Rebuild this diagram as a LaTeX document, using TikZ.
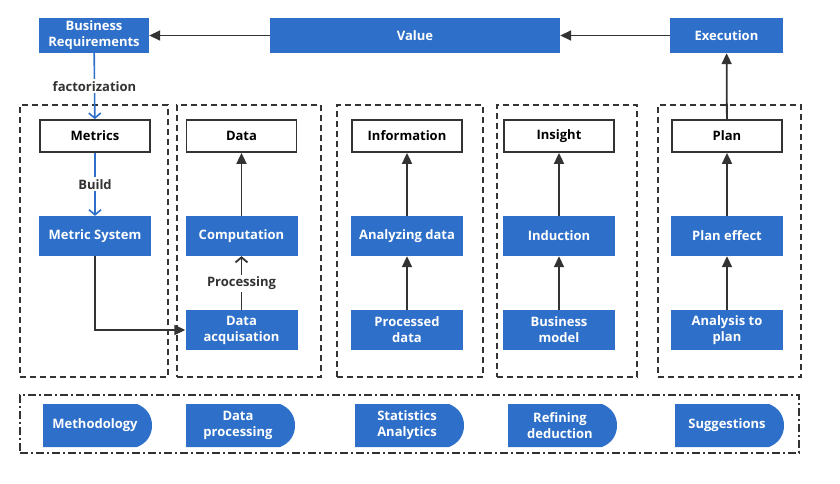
\documentclass[tikz,border=0pt]{standalone}
\usepackage{fontspec}
\setmainfont{Open Sans}
\usetikzlibrary{arrows.meta}
\definecolor{boxblue}{RGB}{46,112,201}
\definecolor{linegray}{RGB}{51,51,51}

\begin{document}
\begin{tikzpicture}[x=1pt,y=-1pt,
        every node/.style={font=\fontsize{13}{16}\selectfont\bfseries, align=center, inner sep=0pt},
        headbox/.style={fill=boxblue, text=white, minimum height=35pt},
        bluebox/.style={fill=boxblue, text=white, minimum height=40pt, minimum width=112pt},
        topbox/.style={draw=linegray, line width=1.8pt, fill=white, minimum height=32pt, minimum width=110pt},
        panel/.style={draw=linegray, line width=1.8pt, dash pattern=on 6pt off 4pt, minimum height=272pt, minimum width=#1},
        flow/.style={draw=linegray, line width=1.8pt, -{Triangle[length=11pt,width=10pt]}},
        openflow/.style={draw=linegray, line width=1.8pt, -{Straight Barb[length=5pt,width=12pt]}},
        blueflow/.style={draw=boxblue, line width=1.6pt, -{Straight Barb[length=5pt,width=12pt]}},
        tag/.style={fill=white, text=linegray, inner sep=2pt},
    ]
    \useasboundingbox (0,0) rectangle (840,484);

    \node[panel=148pt] (p1) at (94,241) {};
    \node[panel=144pt] (p2) at (249,241) {};
    \node[panel=146pt] (p3) at (410,241) {};
    \node[panel=140pt] (p4) at (567,241) {};
    \node[panel=143pt] (p5) at (729.5,241) {};
    \node[draw=linegray, line width=1.8pt, dash pattern=on 8pt off 3pt on 2pt off 3pt,
          minimum width=779pt, minimum height=58pt] (bottom) at (409.5,424) {};

    \node[headbox, minimum width=110pt] (req) at (94,35.5) {Business\\Requirements};
    \node[headbox, minimum width=290pt] (value) at (415,35.5) {Value};
    \node[headbox, minimum width=113pt] (exec) at (726.5,35.5) {Execution};

    \node[topbox] (metrics) at (95,136) {Metrics};
    \node[topbox] (data) at (241.5,136) {Data};
    \node[topbox] (info) at (407,136) {Information};
    \node[topbox] (insight) at (559,136) {Insight};
    \node[topbox] (plan) at (727,136) {Plan};

    \node[bluebox] (msys) at (95,236) {Metric System};
    \node[bluebox] (comp) at (241.5,236) {Computation};
    \node[bluebox] (analyze) at (407,236) {Analyzing data};
    \node[bluebox] (induct) at (559,236) {Induction};
    \node[bluebox] (effect) at (727,236) {Plan effect};

    \node[bluebox] (acq) at (241.5,330) {Data\\acquisation};
    \node[bluebox] (procd) at (407,330) {Processed\\data};
    \node[bluebox] (bmodel) at (559,330) {Business\\model};
    \node[bluebox] (aplan) at (727,330) {Analysis to\\plan};

    \foreach \lx/\nm/\txt in {43/meth/Methodology, 186/dproc/{Data\\processing},
            355/stat/{Statistics\\Analytics}, 508/refine/{Refining\\deduction}, 675/sugg/Suggestions}{
        \fill[boxblue] (\lx,404) -- ({\lx+94},404)
            .. controls ({\lx+104},408) and ({\lx+109},416) .. ({\lx+109},425.5)
            .. controls ({\lx+109},435) and ({\lx+104},443) .. ({\lx+94},447)
            -- (\lx,447) -- cycle;
        \node[text=white] (\nm) at ({\lx+52},425.5) {\txt};
    }

    \draw[flow] (exec) -- (value);
    \draw[flow] (value) -- (req);
    \draw[flow] (plan) -- (exec);
    \draw[blueflow] (req) -- node[tag] {factorization} (metrics);
    \draw[blueflow] (metrics) -- node[tag] {Build} (msys);
    \draw[flow] (msys.south) |- (acq.west);
    \draw[openflow] (acq) -- node[tag] {Processing} (comp);
    \draw[flow] (comp) -- (data);
    \draw[flow] (procd) -- (analyze);
    \draw[flow] (analyze) -- (info);
    \draw[flow] (bmodel) -- (induct);
    \draw[flow] (induct) -- (insight);
    \draw[flow] (aplan) -- (effect);
    \draw[flow] (effect) -- (plan);
\end{tikzpicture}
\end{document}
